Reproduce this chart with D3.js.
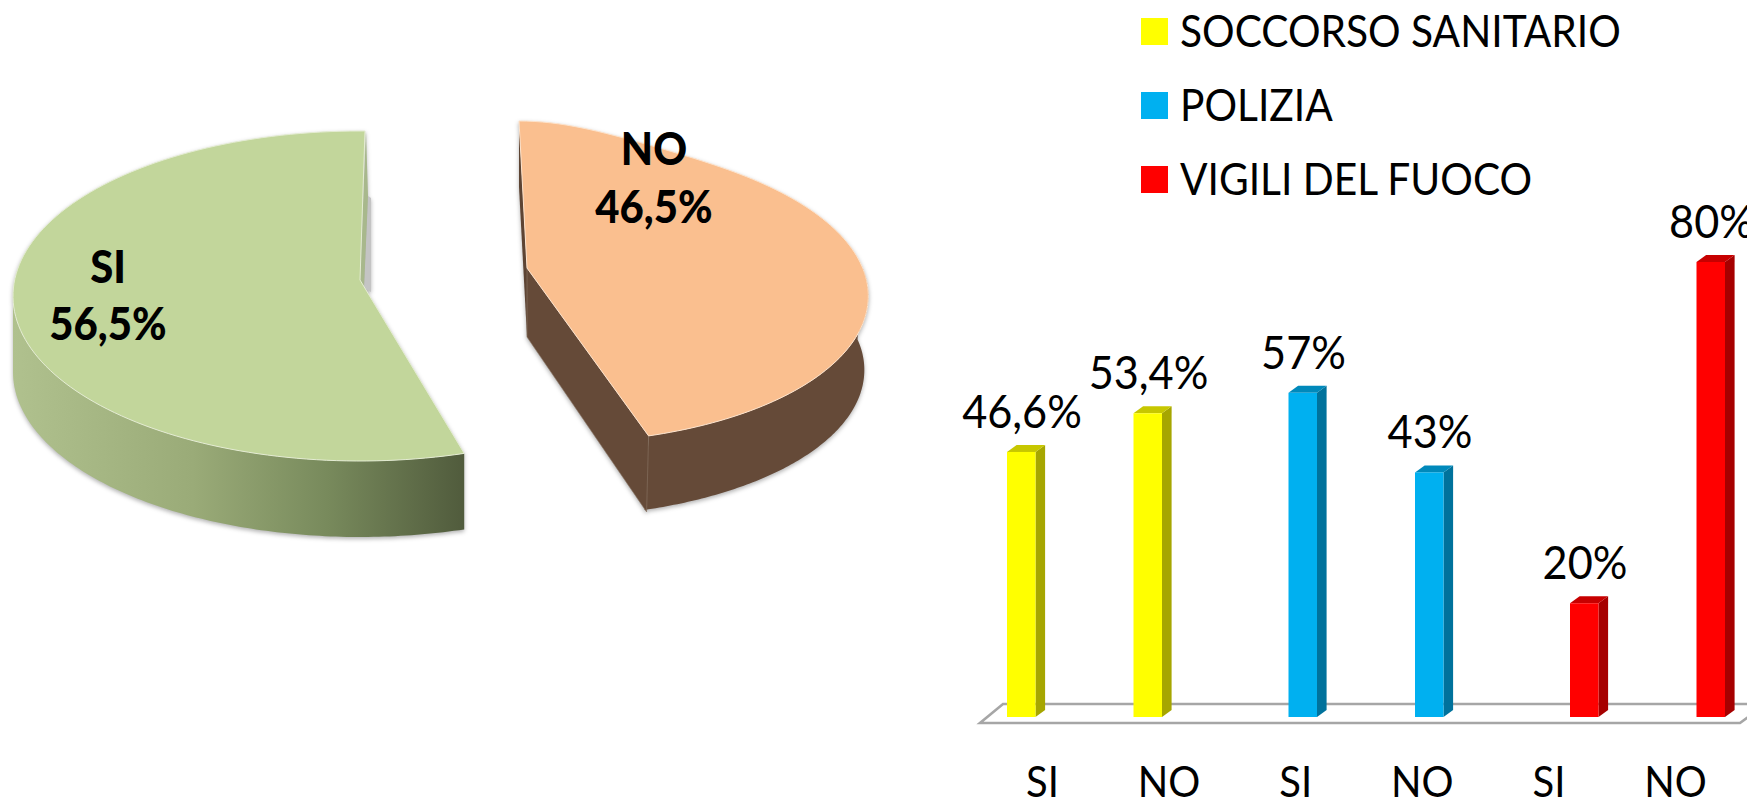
<!DOCTYPE html>
<html><head><meta charset="utf-8">
<style>html,body{margin:0;padding:0;background:#fff;overflow:hidden}svg{display:block}text{font-family:Lato,"Open Sans",sans-serif;fill:#000}</style>
<script src="https://cdn.jsdelivr.net/npm/d3@7"></script></head><body>
<script>
// ---- data
const pieLabels = ["SI", "NO"];
const pieValues = [56.5, 46.5];
const pieValueText = ["56,5%", "46,5%"];
const services = ["SOCCORSO SANITARIO", "POLIZIA", "VIGILI DEL FUOCO"];
const serviceColors = ["#ffff00", "#00b0f0", "#ff0000"];
const answers = ["SI", "NO"];
const barValues = [[46.6, 53.4], [57, 43], [20, 80]];
const barValueText = [["46,6%", "53,4%"], ["57%", "43%"], ["20%", "80%"]];

const W = 1747, H = 800;
const svg = d3.select("body").append("svg").attr("width", W).attr("height", H);
const defs = svg.append("defs");

// fit a text horizontally to a wanted compression of its natural width
function squeeze(sel, sx) {
  sel.each(function () {
    const n = this.getComputedTextLength();
    d3.select(this).attr("textLength", n * sx).attr("lengthAdjust", "spacingAndGlyphs");
  });
}

// ---- pie
const grad = defs.append("linearGradient").attr("id", "siWall").attr("gradientUnits", "userSpaceOnUse")
  .attr("x1", 13).attr("x2", 462).attr("y1", 0).attr("y2", 0);
[[0, "#b0c18e"], [0.4, "#9aab78"], [0.7, "#788a5c"], [1, "#515c3d"]].forEach(s =>
  grad.append("stop").attr("offset", s[0]).attr("stop-color", s[1]));

const arcs = d3.pie().sort(null).value(d => d).startAngle(0).endAngle(-2 * Math.PI)(pieValues);
const siArc = arcs[0];
const noArc = { start: 0, end: 2 * Math.PI + arcs[1].startAngle };

const siP = t => [360 + 347 * Math.sin(t), 296 - 165 * Math.cos(t)];
const noP = t => [534 + 334 * Math.sin(t) - 15 * Math.cos(t),
                  289 - (Math.cos(t) > 0 ? 151 : 154) * Math.cos(t) - 17 * Math.pow(Math.max(0, Math.cos(t)), 16)];
const sample = (f, a, b, n = 120) => d3.range(n + 1).map(i => f(a + (b - a) * i / n));
const line = d3.line();
const pieG = svg.append("g").style("filter", "drop-shadow(0 2px 2px rgba(0,0,0,.3))");

// SI
const siApex = [360, 280];
const siTop = sample(siP, siArc.startAngle, siArc.endAngle);
siTop[0] = [365, 131];
const siDy = 76;
const siWallTop = sample(siP, -Math.PI / 2, siArc.endAngle);
pieG.append("path").attr("fill", "#c4c4c4").attr("d", line([[368, 196], [371, 198], [371, 292], [364, 288]]) + "Z");
pieG.append("path").attr("fill", "#a8b88c")
  .attr("d", line([[366, 131], siApex, [364, 288], [368, 196]]) + "Z");
pieG.append("path").attr("fill", "url(#siWall)")
  .attr("d", line(siWallTop.concat(siWallTop.map(p => [p[0], p[1] + siDy]).reverse())) + "Z");
pieG.append("path").attr("fill", "#c2d69b").attr("stroke", "#e4ecd2").attr("stroke-width", 1)
  .attr("d", line([siApex].concat(siTop)) + "Z");

// NO
const noApex = [527, 268];
const noDx = -4, noDy = 74;
const noTop = sample(noP, noArc.start, noArc.end);
const noWallTop = sample(noP, Math.PI * 0.45, noArc.end);
const noEnd = noP(noArc.end);
pieG.append("path").attr("fill", "#5d4433")
  .attr("d", line([noP(0), noApex, [noApex[0], noApex[1] + 69], [519, 187]]) + "Z");
pieG.append("path").attr("fill", "#654a38")
  .attr("d", line(noWallTop.concat(noWallTop.map(p => [p[0] + noDx, p[1] + noDy]).reverse())) + "Z");
pieG.append("path").attr("fill", "#654a38").attr("stroke", "#8a7565").attr("stroke-width", 0.6)
  .attr("d", line([noApex, [noApex[0], noApex[1] + 69], [noEnd[0] + noDx + 2, noEnd[1] + noDy + 2], noEnd]) + "Z");
pieG.append("path").attr("fill", "#fabf8f").attr("stroke", "#fde3cc").attr("stroke-width", 1)
  .attr("d", line([noApex].concat(noTop)) + "Z");

// pie labels
const pieLabelPos = [{ x: 108, y1: 283, y2: 340 }, { x: 654, y1: 165, y2: 223 }];
pieLabels.forEach((lab, i) => {
  const p = pieLabelPos[i];
  const g = svg.append("g").attr("font-size", 45).attr("font-weight", 900).attr("text-anchor", "middle");
  g.append("text").attr("x", p.x).attr("y", p.y1).text(lab).call(squeeze, 0.93);
  g.append("text").attr("x", p.x).attr("y", p.y2).text(pieValueText[i]).call(squeeze, 0.93);
});

// ---- bars
const y = d3.scaleLinear().domain([0, 80]).range([717, 262]);
const xGroup = d3.scalePoint().domain(services).range([1007, 1570]);
const xInner = d3.scalePoint().domain(answers).range([0, 126.5]);
const barW = 28.5, depthX = 9.6, depthY = 7;
const shade = (c, k) => { const r = d3.rgb(c); return d3.rgb(r.r * k, r.g * k, r.b * k).formatHex(); };

// floor
const floor = svg.append("g");
const floorPts = [[980, 723], [1740, 723], [1766, 704], [1003, 704]];
floor.append("path").attr("fill", "none").attr("stroke", "#a6a6a6").attr("stroke-width", 2.6)
  .attr("d", line(floorPts) + "Z");

const flat = services.flatMap((s, i) => answers.map((a, j) => ({
  service: s, answer: a, value: barValues[i][j], text: barValueText[i][j], color: serviceColors[i]
})));
const bars = svg.append("g").selectAll("g").data(flat).join("g");
const bx = d => xGroup(d.service) + xInner(d.answer);
bars.append("path").attr("fill", d => shade(d.color, 0.65)).attr("d", d => line([
  [bx(d) + barW, y(d.value)], [bx(d) + barW + depthX, y(d.value) - depthY],
  [bx(d) + barW + depthX, y(0) - depthY], [bx(d) + barW, y(0)]]) + "Z");
bars.append("path").attr("fill", d => shade(d.color, 0.78)).attr("d", d => line([
  [bx(d), y(d.value)], [bx(d) + depthX, y(d.value) - depthY],
  [bx(d) + barW + depthX, y(d.value) - depthY], [bx(d) + barW, y(d.value)]]) + "Z");
bars.append("rect").attr("fill", d => d.color).attr("x", bx).attr("y", d => y(d.value))
  .attr("width", barW).attr("height", d => y(0) - y(d.value));
bars.append("text").attr("text-anchor", "middle").attr("font-size", 46)
  .attr("x", d => bx(d) + 15).attr("y", d => y(d.value) - 24).text(d => d.text).call(squeeze, 0.94);

// category axis
const cats = services.flatMap(s => answers.map(a => s + "|" + a));
const xAxis = d3.scalePoint().domain(cats).range([1042, 1675]);
const axisG = svg.append("g").attr("transform", "translate(0,770)")
  .call(d3.axisBottom(xAxis).tickSize(0).tickPadding(0).tickFormat(d => d.split("|")[1]));
axisG.select(".domain").remove();
axisG.selectAll("text").attr("font-size", 43).attr("dy", null).attr("y", 27)
  .style("font-family", "Lato").call(squeeze, 0.93);
axisG.attr("font-family", null).attr("font-size", null);

// legend
const legendY = d3.scalePoint().domain(services).range([18, 166]);
const leg = svg.append("g").selectAll("g").data(services).join("g");
leg.append("rect").attr("x", 1141).attr("y", d => legendY(d)).attr("width", 27).attr("height", 27)
  .attr("fill", (d, i) => serviceColors[i]);
leg.append("text").attr("x", 1180).attr("y", d => legendY(d) + 29).attr("font-size", 44).text(d => d).call(squeeze, 0.925);
</script></body></html>
